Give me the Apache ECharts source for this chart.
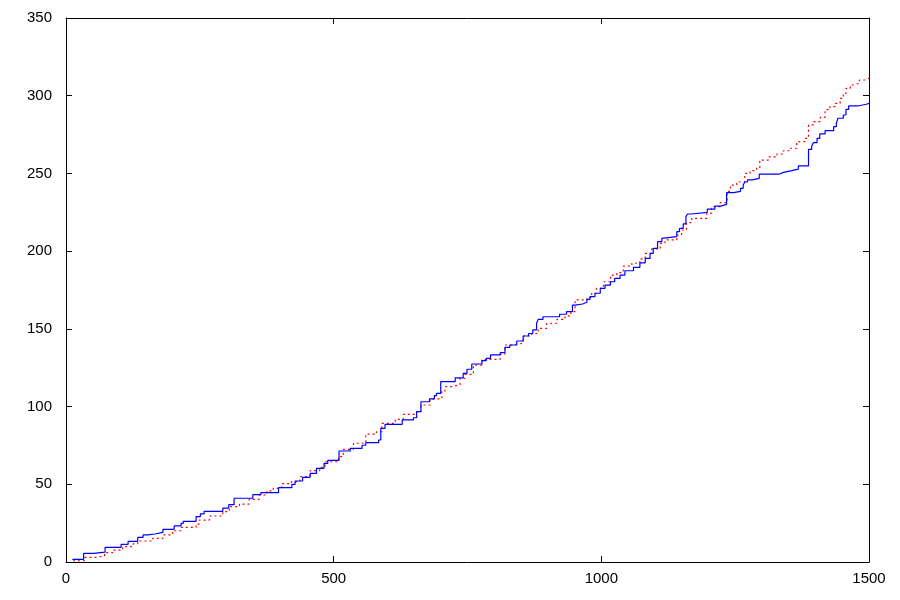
<!DOCTYPE html>
<html>
<head>
<meta charset="utf-8">
<script src="https://cdn.jsdelivr.net/npm/echarts@6/dist/echarts.min.js"></script>
<style>
  html, body { margin: 0; padding: 0; background: #fff; }
  #chart { width: 900px; height: 600px; }
</style>
</head>
<body>
<div id="chart"></div>
<script>
// blue solid step curve: [x where level starts, level]
const blueSteps = [
  [12, 1.7], [33, 5.6], [52, 6.4], [73, 9.4], [103, 11.4], [116, 13.3], [134, 15.9],
  [144, 17.4], [153, 18], [166, 19.1], [181, 21], [202, 23.2], [215, 24.9], [219, 26.2],
  [243, 29.2], [251, 30.9], [258, 32.6], [293, 34.7], [304, 36.9], [314, 41], [349, 43.3],
  [364, 44.6], [397, 47.8], [422, 50], [428, 52.1], [442, 54.5], [456, 57], [468, 60.3],
  [482, 63.5], [489, 65.4], [510, 71.4], [531, 73.1], [553, 75.1], [560, 76.8], [584, 78.5],
  [588, 86], [596, 88.6], [628, 91.4], [649, 92.8], [655, 96.7], [663, 103.1], [679, 104.9],
  [688, 107], [692, 108.5], [700, 116], [727, 118.5], [742, 121.4], [749, 124], [758, 127.4],
  [777, 129.5], [785, 131], [793, 133.2], [811, 134.7], [820, 138.1], [829, 139.6], [842, 142.2],
  [854, 145.4], [864, 147], [872, 149.3], [879, 153.6], [882, 156.1], [891, 157.8], [922, 159.4],
  [935, 161.1], [946, 165.3], [951, 166], [965, 167.1], [973, 169], [979, 170.7], [988, 172.9],
  [998, 176.1], [1007, 178.2], [1017, 180.3], [1025, 182.5], [1035, 184.6], [1044, 187.4],
  [1060, 189.6], [1072, 192.5], [1082, 195.4], [1091, 198.6], [1097, 201.8], [1105, 206.1],
  [1113, 208.2], [1116, 209.3], [1141, 212.5], [1146, 214.6], [1153, 217.5], [1158, 222.2],
  [1161, 223.9], [1169, 225], [1198, 227], [1212, 229], [1223, 230.1], [1234, 237.6],
  [1247, 238.5], [1260, 240.4], [1265, 242.5], [1268, 244.5], [1273, 245.8], [1282, 246.8],
  [1295, 249.5], [1332, 250.7], [1340, 251.8], [1356, 252.8], [1368, 254.8], [1387, 265.5],
  [1393, 267.6], [1396, 269.8], [1403, 272.6], [1408, 275.4], [1418, 277.5], [1434, 280.1],
  [1439, 282.2], [1442, 285.5], [1452, 287.6], [1457, 291.2], [1462, 293.4], [1479, 294.5],
  [1495, 295.1], [1500, 295.1]
];

// red dotted step curve
const redSteps = [
  [13, 0.8], [34, 3], [56, 3.9], [72, 6], [87, 7.7], [106, 9.9], [125, 11.6], [134, 13.5],
  [162, 15.2], [181, 17.4], [199, 20.1], [215, 22.3], [243, 24.4], [249, 27], [268, 29.6],
  [293, 32.4], [305, 35.6], [324, 37.3], [342, 40.3], [361, 43.1], [375, 45.7], [387, 47.4],
  [403, 50.4], [421, 51.7], [437, 54.9], [456, 58.8], [474, 60.9], [484, 64.5], [509, 67.8],
  [518, 72.5], [537, 76.4], [560, 82.3], [580, 83.8], [590, 89.2], [615, 91.8], [630, 95],
  [655, 96.7], [663, 101], [680, 104.9], [702, 109.6], [708, 112.8], [720, 114], [736, 118.2],
  [745, 120.7], [761, 126.7], [777, 130.4], [811, 133.6], [820, 139.6], [832, 140.7],
  [854, 145.4], [870, 147], [882, 150.3], [898, 153.6], [917, 156.1], [932, 158.3], [943, 161.1],
  [951, 168.6], [973, 170.3], [982, 172.9], [991, 176.1], [1004, 180.3], [1017, 184.6],
  [1029, 186.2], [1041, 190.4], [1057, 192.2], [1072, 195], [1082, 198.6], [1094, 201.4],
  [1110, 205], [1119, 207.2], [1141, 210.4], [1150, 213.6], [1159, 218.3], [1169, 221.1],
  [1197, 224.4], [1206, 228.6], [1222, 231.2], [1235, 238.5], [1241, 242.5], [1253, 244.5],
  [1268, 250], [1278, 251.8], [1290, 253.5], [1296, 258.6], [1312, 260.6], [1328, 262.5],
  [1340, 264.6], [1353, 266.2], [1365, 270.5], [1380, 272.6], [1387, 281.2], [1396, 283.3],
  [1409, 286.1], [1418, 291], [1427, 293], [1437, 295.1], [1446, 298.3], [1452, 301.5],
  [1457, 304.7], [1465, 306.9], [1470, 308], [1482, 310.1], [1493, 311.2], [1500, 312]
];

const X_MIN = 0, X_MAX = 1500, X_STEP = 500;
const Y_MIN = 0, Y_MAX = 350, Y_STEP = 50;

const FONT = '"Liberation Sans", Arial, sans-serif';
const axisLine = { show: true, onZero: false, lineStyle: { color: '#000', width: 1 } };
const axisTick = { show: true, inside: true, length: 6, lineStyle: { color: '#000', width: 1 } };
const label = { color: '#000', fontSize: 15, fontFamily: FONT, formatter: (v) => String(v) };

const chart = echarts.init(document.getElementById('chart'));
chart.setOption({
  animation: false,
  backgroundColor: '#fff',
  grid: { left: 66, right: 31, top: 18, bottom: 38 },
  xAxis: [
    {
      type: 'value', min: X_MIN, max: X_MAX, interval: X_STEP,
      axisLine, axisTick, splitLine: { show: false },
      axisLabel: { ...label, margin: 9 }
    },
    {
      type: 'value', position: 'top', min: X_MIN, max: X_MAX, interval: X_STEP,
      axisLine, axisTick, splitLine: { show: false }, axisLabel: { show: false }
    }
  ],
  yAxis: [
    {
      type: 'value', min: Y_MIN, max: Y_MAX, interval: Y_STEP,
      axisLine, axisTick, splitLine: { show: false },
      axisLabel: { ...label, margin: 14 }
    },
    {
      type: 'value', position: 'right', min: Y_MIN, max: Y_MAX, interval: Y_STEP,
      axisLine, axisTick, splitLine: { show: false }, axisLabel: { show: false }
    }
  ],
  series: [
    {
      type: 'line', step: 'end', data: redSteps, showSymbol: false, symbol: 'none',
      lineStyle: { color: '#ff0000', width: 1.2, type: [2, 3] }, z: 2
    },
    {
      type: 'line', step: 'end', data: blueSteps, showSymbol: false, symbol: 'none',
      lineStyle: { color: '#0000ff', width: 1.2 }, z: 3
    }
  ]
});
</script>
</body>
</html>
